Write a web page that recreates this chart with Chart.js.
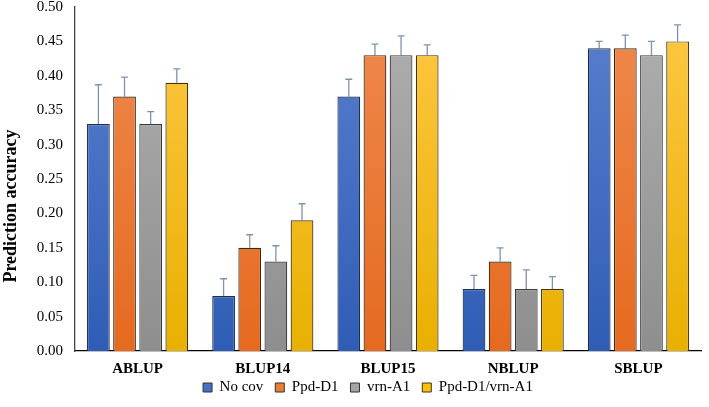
<!DOCTYPE html>
<html>
<head>
<meta charset="utf-8">
<script src="https://cdn.jsdelivr.net/npm/chart.js@4/dist/chart.umd.min.js"></script>
<style>
  html, body { margin: 0; padding: 0; background: #fff; }
  #wrap { width: 709px; height: 407px; }
</style>
</head>
<body>
<div id="wrap"><canvas id="c"></canvas></div>
<script>
// categories and series
const categories = ['ABLUP', 'BLUP14', 'BLUP15', 'NBLUP', 'SBLUP'];
const noCov = [0.33, 0.08, 0.37, 0.09, 0.44];
const ppdD1 = [0.37, 0.15, 0.43, 0.13, 0.44];
const vrnA1 = [0.33, 0.13, 0.43, 0.09, 0.43];
const ppdVrn = [0.39, 0.19, 0.43, 0.09, 0.45];
// upper error (standard deviation) for each series
const noCovErr = [0.057, 0.025, 0.025, 0.02, 0.01];
const ppdD1Err = [0.028, 0.019, 0.016, 0.02, 0.019];
const vrnA1Err = [0.018, 0.023, 0.028, 0.028, 0.02];
const ppdVrnErr = [0.02, 0.024, 0.015, 0.018, 0.024];
const yTicks = [0, 0.05, 0.1, 0.15, 0.2, 0.25, 0.3, 0.35, 0.4, 0.45, 0.5];
const yTitle = 'Prediction accuracy';

const serif = "'Liberation Serif', 'Times New Roman', serif";
const legendShrink = 19; // legend sits tight under the category labels

// vertical gradient fill, lighter at the top
const grad = (top, bottom) => (ctx) => {
    const area = ctx.chart.chartArea;
    if (!area) return bottom;
    const g = ctx.chart.ctx.createLinearGradient(0, area.top, 0, area.bottom);
    g.addColorStop(0, top);
    g.addColorStop(1, bottom);
    return g;
};

// draw the upper error whiskers using the chart scales
const errorBars = {
    id: 'errorBars',
    beforeDatasetsDraw(chart) {
        const c = chart.ctx;
        const y = chart.scales.y;
        c.save();
        c.strokeStyle = '#7f93ad';
        c.lineWidth = 1.3;
        chart.data.datasets.forEach((ds, i) => {
            const meta = chart.getDatasetMeta(i);
            meta.data.forEach((bar, j) => {
                const top = y.getPixelForValue(ds.data[j] + ds.errors[j]);
                c.beginPath();
                c.moveTo(bar.x, bar.y);
                c.lineTo(bar.x, top);
                c.moveTo(bar.x - 3.5, top);
                c.lineTo(bar.x + 3.5, top);
                c.stroke();
            });
        });
        c.restore();
    }
};

// y axis title, sits a bit below the middle like in the original
const axisTitle = {
    id: 'axisTitle',
    afterLayout(chart) {
        if (chart.legend && chart.legend._shrunk) chart.legend.top -= legendShrink;
    },
    afterDraw(chart) {
        const c = chart.ctx;
        const a = chart.chartArea;
        c.save();
        c.translate(11, (a.top + a.bottom) / 2 + 27);
        c.rotate(-Math.PI / 2);
        c.font = 'bold 18px ' + serif;
        c.fillStyle = '#000';
        c.textAlign = 'center';
        c.textBaseline = 'middle';
        c.fillText(yTitle, 0, 0);
        c.restore();
    }
};

const mk = (label, data, errors, top, bottom, legendColor, border) => ({
    label: label,
    data: data,
    errors: errors,
    backgroundColor: grad(top, bottom),
    borderColor: border,
    borderWidth: 1.2,
    legendColor: legendColor
});

const chart = new Chart(document.getElementById('c'), {
    type: 'bar',
    data: {
        labels: categories,
        datasets: [
            mk('No cov', noCov, noCovErr, '#5a80cf', '#2f5db5', '#4472c4', '#1f2d4a'),
            mk('Ppd-D1', ppdD1, ppdD1Err, '#f08a4e', '#e56a1f', '#ed7d31', '#3a2a1e'),
            mk('vrn-A1', vrnA1, vrnA1Err, '#b0b0b0', '#8e8e8e', '#a5a5a5', '#3a3a3a'),
            mk('Ppd-D1/vrn-A1', ppdVrn, ppdVrnErr, '#ffc845', '#e8b000', '#ffc000', '#3e3213')
        ]
    },
    options: {
        responsive: true,
        maintainAspectRatio: false,
        animation: false,
        layout: { padding: { top: 7, right: 8, left: 35, bottom: 2 } },
        datasets: { bar: { categoryPercentage: 0.835, barPercentage: 0.87 } },
        plugins: {
            legend: {
                position: 'bottom',
                labels: {
                    font: { family: serif, size: 15 },
                    color: '#000',
                    boxWidth: 9,
                    boxHeight: 9,
                    padding: 12,
                    generateLabels(chart) {
                        return chart.data.datasets.map((ds, i) => ({
                            text: ds.label,
                            fillStyle: ds.legendColor,
                            strokeStyle: '#333',
                            lineWidth: 1,
                            datasetIndex: i
                        }));
                    }
                }
            },
            tooltip: { enabled: false }
        },
        scales: {
            x: {
                grid: { display: false, drawTicks: false },
                border: { color: '#000', width: 1.3 },
                ticks: { font: { family: serif, size: 15, weight: 'bold' }, color: '#000', padding: 9 }
            },
            y: {
                min: 0,
                max: 0.5,
                afterBuildTicks(axis) { axis.ticks = yTicks.map(v => ({ value: v })); },
                afterFit(axis) { axis.width = 40; axis.paddingTop = 0; axis.paddingBottom = 0; },
                grid: { display: false, drawTicks: false },
                border: { color: '#444', width: 1.3 },
                ticks: {
                    font: { family: serif, size: 15 },
                    color: '#000',
                    padding: 12,
                    callback: (v) => v.toFixed(2)
                }
            }
        }
    },
    plugins: [errorBars, axisTitle]
});

// make the legend box shorter so the plot can grow downwards
const legendFit = chart.legend.fit;
chart.legend.fit = function () {
    legendFit.call(this);
    this.height -= legendShrink;
    this._shrunk = true;
};
chart.update();
</script>
</body>
</html>
